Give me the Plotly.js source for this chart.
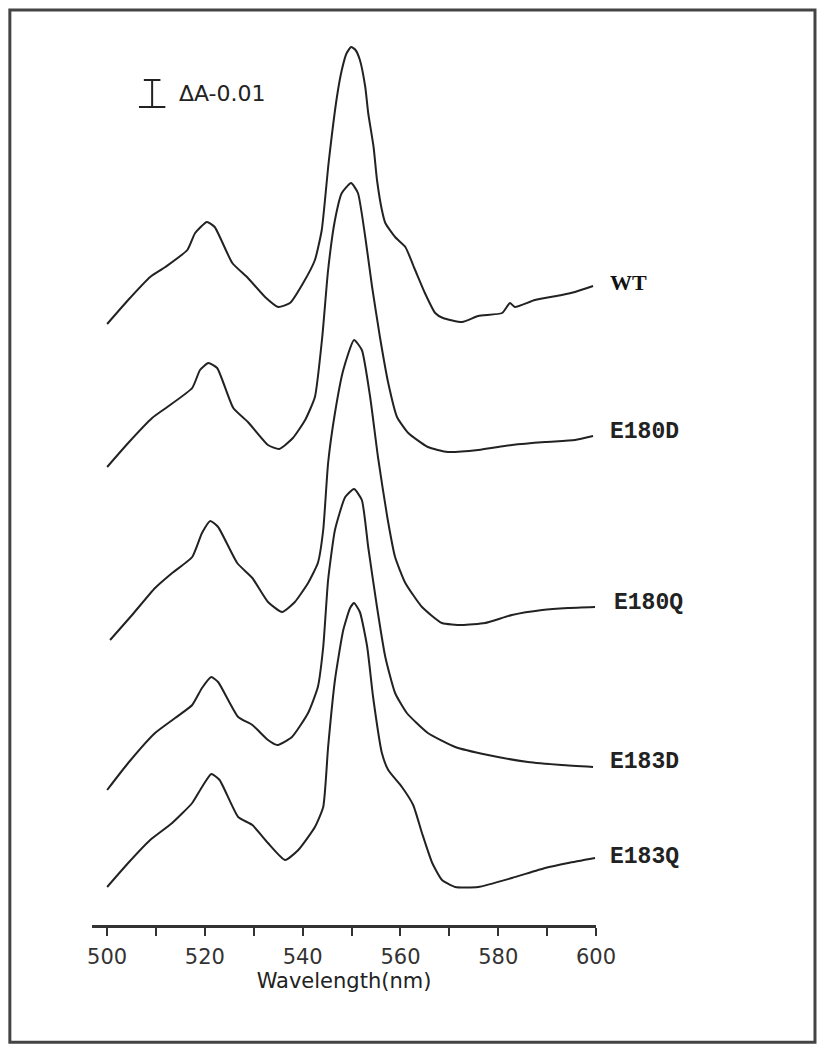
<!DOCTYPE html>
<html>
<head>
<meta charset="utf-8">
<script src="https://cdn.plot.ly/plotly-3.0.1.min.js"></script>
<style>
  body { margin: 0; background: #fff; }
  #chart { width: 825px; height: 1050px; }
</style>
</head>
<body>
<div id="chart"></div>
<script>
  // spectra, stacked with their own vertical offset
  // (height units: 27 units = dA 0.01, same as the scale bar)
  const wtX = [500, 504.3, 508.8, 511.9, 516.4, 518, 520.4, 522, 525.6, 528.8, 532.3, 535, 537.4, 540.1, 542.5, 543.9, 545.3, 547, 548, 549, 549.9, 550.8, 551.7, 552.8, 553.4, 554.5, 555.2, 556.2, 556.9, 558.9, 561, 563, 565, 567.1, 568.7, 572.6, 575.9, 580.8, 582.4, 583.4, 587.5, 593, 595.7, 599.4];
  const wtY = [601, 625, 648, 658, 675, 692, 703, 698, 662, 647, 628, 618, 622, 642, 665, 695, 762, 828, 855, 872, 878, 875, 865, 838, 812, 778, 745, 715, 702, 688, 678, 655, 632, 612, 607, 603, 609, 612, 622, 618, 625, 630, 633, 639];

  const e180dX = [500, 504.3, 509.2, 512.3, 517.4, 519, 520.7, 522.5, 525.8, 528.8, 532.9, 535.2, 538, 540.5, 542.5, 544, 545.2, 546.6, 548, 549.9, 551.3, 552.8, 554.2, 555.8, 557.5, 559.3, 561.6, 565.6, 569.7, 575.9, 582.8, 589.6, 595.7, 599.4];
  const e180dY = [458, 482, 507, 518, 537, 555, 562, 557, 517, 503, 480, 476, 487, 505, 528, 588, 655, 705, 732, 742, 732, 688, 638, 588, 542, 508, 492, 478, 473, 475, 480, 483, 485, 489];

  const e180qX = [500.6, 505.1, 509.8, 513.3, 517.4, 519.4, 521.1, 522.7, 526.6, 529.7, 532.9, 535.8, 538.4, 541.1, 543.1, 544.2, 545.2, 546.6, 548.3, 550.5, 552.1, 553.8, 555.4, 557.3, 558.9, 561, 564.4, 568.5, 572.6, 577.3, 582.8, 589, 594.3, 599.8];
  const e180qY = [285, 310, 337, 352, 368, 392, 404, 398, 362, 347, 323, 313, 323, 342, 362, 395, 462, 512, 555, 585, 575, 528, 468, 408, 368, 342, 318, 302, 300, 302, 310, 315, 317, 318];

  const e183dX = [500, 504.3, 509.8, 513.9, 517.4, 519.4, 521.3, 522.7, 526.8, 529.7, 532.9, 534.8, 537.8, 541.1, 543.1, 544.2, 545.2, 546.6, 548.7, 550.5, 552.1, 553.4, 555.2, 556.9, 558.9, 561.3, 565.6, 571.2, 577.9, 586.1, 593, 599.4];
  const e183dY = [135, 162, 192, 207, 220, 237, 248, 243, 208, 200, 185, 180, 188, 212, 238, 278, 345, 395, 428, 436, 425, 378, 318, 268, 232, 212, 192, 178, 170, 163, 160, 158];

  const e183qX = [500, 504.3, 508.8, 513.3, 517.4, 519.4, 521.3, 523, 526.8, 529.7, 532.9, 536.4, 539.1, 542.5, 544.2, 545.2, 546.6, 548.3, 549.7, 550.5, 551.7, 553.2, 554.4, 556.2, 557.5, 560.3, 562.6, 564.4, 566.5, 568.5, 571.2, 575.9, 582.8, 589.6, 594.3, 599.8];
  const e183qY = [38, 62, 85, 102, 122, 138, 151, 145, 108, 100, 82, 65, 75, 98, 118, 178, 245, 295, 317, 322, 313, 278, 228, 172, 155, 138, 120, 92, 62, 45, 38, 38, 47, 57, 62, 67];

  const names = ['WT', 'E180D', 'E180Q', 'E183D', 'E183Q'];
  const xs = [wtX, e180dX, e180qX, e183dX, e183qX];
  const ys = [wtY, e180dY, e180qY, e183dY, e183qY];

  // label positions next to each trace end
  const labelX = [1.024, 1.024, 1.032, 1.024, 1.024];
  const labelY = [643, 493, 322, 163, 68];

  const traces = [];
  for (let i = 0; i < names.length; i++) {
    traces.push({
      x: xs[i],
      y: ys[i],
      mode: 'lines',
      name: names[i],
      line: { color: '#222', width: 2, shape: 'spline', smoothing: 0.5 },
      hoverinfo: 'skip'
    });
  }

  const annotations = [];
  for (let i = 0; i < names.length; i++) {
    annotations.push({
      xref: 'paper', yref: 'y',
      x: labelX[i], y: labelY[i],
      xanchor: 'left', yanchor: 'middle',
      text: names[i],
      showarrow: false,
      font: i == 0
        ? { family: 'Liberation Serif', size: 22, color: '#111', weight: 'bold' }
        : { family: 'Liberation Mono', size: 23, color: '#222', weight: 'bold' }
    });
  }
  annotations.push({
    xref: 'x', yref: 'y',
    x: 514.3, y: 832,
    xanchor: 'left', yanchor: 'middle',
    text: 'ΔA-0.01',
    showarrow: false,
    font: { family: 'DejaVu Sans', size: 22, color: '#222' }
  });

  // scale bar (dA = 0.01) and the outer frame
  const barLo = 818, barHi = 845, barX = 509.2;
  const shapes = [
    { type: 'line', xref: 'x', yref: 'y', x0: barX, x1: barX, y0: barLo, y1: barHi, line: { color: '#222', width: 2 } },
    { type: 'line', xref: 'x', yref: 'y', x0: 506.5, x1: 511.9, y0: barLo, y1: barLo, line: { color: '#222', width: 2 } },
    { type: 'line', xref: 'x', yref: 'y', x0: 507.5, x1: 510.9, y0: barHi, y1: barHi, line: { color: '#222', width: 2 } },
    { type: 'rect', xref: 'paper', yref: 'paper', x0: -0.163, x1: 1.4345, y0: -0.131, y1: 1.0223, line: { color: '#444', width: 3 } }
  ];

  const layout = {
    width: 825,
    height: 1050,
    margin: { l: 92, r: 229, t: 30, b: 125 },
    paper_bgcolor: '#fff',
    plot_bgcolor: '#fff',
    showlegend: false,
    xaxis: {
      range: [496.9, 600],
      tick0: 500,
      dtick: 20,
      ticks: 'outside',
      ticklen: 8,
      tickwidth: 2,
      tickcolor: '#333',
      minor: { dtick: 10, ticks: 'outside', ticklen: 8, tickwidth: 2, tickcolor: '#333' },
      showline: true,
      linecolor: '#333',
      linewidth: 2.5,
      showgrid: false,
      zeroline: false,
      ticklabelstandoff: 3,
      tickfont: { family: 'DejaVu Sans', size: 21, color: '#333' },
      title: { text: 'Wavelength(nm)', font: { family: 'DejaVu Sans', size: 21, color: '#222' }, standoff: 6 }
    },
    yaxis: {
      range: [0, 895],
      visible: false
    },
    annotations: annotations,
    shapes: shapes
  };

  Plotly.newPlot('chart', traces, layout, { displayModeBar: false, staticPlot: true });
</script>
</body>
</html>
